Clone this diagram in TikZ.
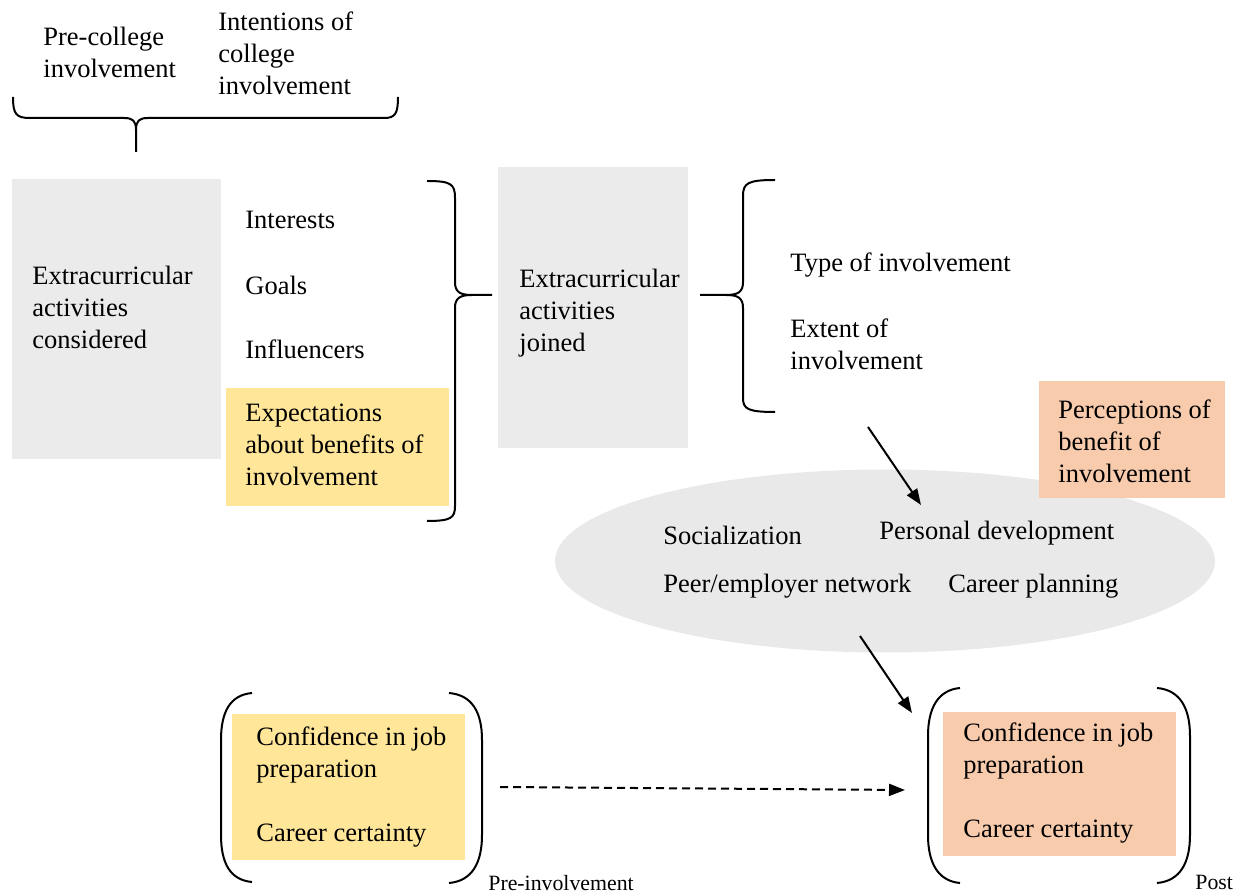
\documentclass[tikz,border=0pt]{standalone}
\usepackage{fontspec}
\setmainfont{Liberation Serif}
\usetikzlibrary{arrows.meta,fit,shapes.geometric}
\definecolor{boxgray}{HTML}{EBEBEB}
\definecolor{ellgray}{HTML}{E9E9E9}
\definecolor{boxyellow}{HTML}{FFE699}
\definecolor{boxpeach}{HTML}{F8CBAD}
\begin{document}
\begin{tikzpicture}[x=0.5pt,y=-0.5pt,
  txt/.style={anchor=west,align=left,inner sep=0pt,font=\fontsize{13.25}{16}\selectfont},
  small/.style={anchor=base west,inner sep=0pt,font=\fontsize{10.9}{13}\selectfont},
  box/.style={inner sep=0pt,draw=none},
  brace/.style={line width=1pt,draw=black},
  arr/.style={line width=1pt,-{Triangle[length=8pt,width=6pt]}},
  darr/.style={line width=1pt,dash pattern=on 4pt off 2.5pt,-{Triangle[length=8pt,width=6pt]}}]
\useasboundingbox (0,0) rectangle (1243,892);

% top labels
\node[txt] (pc) at (43,52) {Pre-college\\involvement};
\node[txt] (ic) at (218,53) {Intentions of\\college\\involvement};

% top brace
\draw[brace] (13,97) .. controls (13,114) and (16,118) .. (30,118) -- (124,118)
  .. controls (133,118) and (136,121) .. (136,130) -- (136,152);
\draw[brace] (136,130) .. controls (136,121) and (139,118) .. (148,118) -- (384,118)
  .. controls (395,118) and (398,114) .. (398,97);

% boxes
\node[box,fill=boxgray,fit={(12,179)(221,459)}] (b1) {};
\node[box,fill=boxyellow,fit={(226,388)(449,506)}] (b2) {};
\node[box,fill=boxgray,fit={(498,167)(688,448)}] (b3) {};

\node[txt] (t1) at (32,307) {Extracurricular\\activities\\considered};
\node[txt] (int) at (245,220) {Interests};
\node[txt] (goa) at (245,285) {Goals};
\node[txt] (inf) at (245,349) {Influencers};
\node[txt] (exp) at (245,445) {Expectations\\about benefits of\\involvement};
\node[txt] (t3) at (519,313) {Extracurricular\\activities\\joined};

% right-pointing brace
\draw[brace] (427,181) .. controls (451,181) and (455,184) .. (455,198) -- (455,282)
  .. controls (455,292) and (460,295) .. (472,295) -- (492,295);
\draw[brace] (472,295) .. controls (460,295) and (455,298) .. (455,308) -- (455,506)
  .. controls (455,518) and (451,521) .. (427,521);

% left-pointing brace
\draw[brace] (775,180) .. controls (748,180) and (743,183) .. (743,196) -- (743,282)
  .. controls (743,292) and (738,295) .. (726,295) -- (700,295);
\draw[brace] (726,295) .. controls (738,295) and (743,298) .. (743,308) -- (743,398)
  .. controls (743,409) and (748,412) .. (775,412);

\node[txt] (typ) at (790,265) {Type of involvement};
\node[txt] (ext) at (790,344) {Extent of\\involvement};

% ellipse
\node[ellipse,fill=ellgray,inner sep=0pt,minimum width=330pt,minimum height=91.5pt] (ell) at (885,561) {};
\node[txt] (soc) at (663,535) {Socialization};
\node[txt] (pd) at (879,533) {Personal development};
\node[txt] (pen) at (663,586) {Peer/employer network};
\node[txt] (cp) at (948,586) {Career planning};

% perceptions box
\node[box,fill=boxpeach,fit={(1039,381)(1225,498)}] (b4) {};
\node[txt] (per) at (1058,441) {Perceptions of\\benefit of\\involvement};

% arrows
\coordinate (a1s) at (868,427);
\coordinate (a1e) at (921,505);
\draw[arr] (a1s) -- (a1e);
\coordinate (a2s) at (860,636);
\coordinate (a2e) at (912,713);
\draw[arr] (a2s) -- (a2e);

% bottom left group
\node[box,fill=boxyellow,fit={(232,714)(465,860)}] (b5) {};
\node[txt] (c1) at (256,787.5) {Confidence in job\\preparation\\[16pt]Career certainty};
\draw[brace] (252,693) .. controls (230,695) and (221,712) .. (221,740) -- (221,835)
  .. controls (221,863) and (230,880) .. (252,882);
\draw[brace] (449,693) .. controls (472,695) and (482,712) .. (482,740) -- (482,835)
  .. controls (482,863) and (472,881) .. (449,883);
\node[small] (pre) at (488,890) {Pre-involvement};

% bottom right group
\node[box,fill=boxpeach,fit={(943,712)(1176,856)}] (b6) {};
\node[txt] (c2) at (963,783.5) {Confidence in job\\preparation\\[16pt]Career certainty};
\draw[brace] (960,688) .. controls (938,690) and (928,708) .. (928,736) -- (928,835)
  .. controls (928,863) and (938,881) .. (960,883);
\draw[brace] (1157,688) .. controls (1180,690) and (1190,708) .. (1190,736) -- (1190,835)
  .. controls (1190,863) and (1180,881) .. (1157,883);
\node[small] (post) at (1195,889) {Post};

% dashed arrow
\coordinate (d1s) at (500,787);
\coordinate (d1e) at (905,790);
\draw[darr] (d1s) -- (d1e);
\end{tikzpicture}
\end{document}
